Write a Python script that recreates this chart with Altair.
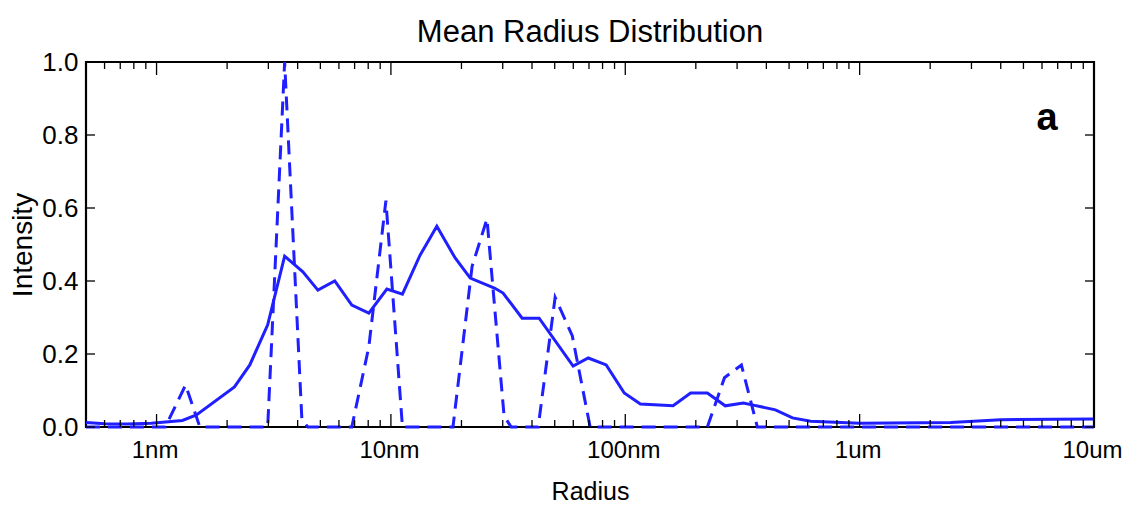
import altair as alt
import pandas as pd

# ---- data (radius in nm, intensity) ----
solid_radius = [0.5, 0.6, 0.75, 0.95, 1.29, 1.48, 2.15, 2.50, 2.98, 3.52, 4.21, 4.88, 5.76,
                6.81, 8.05, 9.61, 11.2, 13.3, 15.7, 18.8, 21.8, 27.8, 30.1, 36.3, 42.9,
                59.9, 69.5, 82.9, 99, 116, 160, 190, 224, 267, 319, 352, 437, 517, 618,
                1000, 2450, 4000, 10000]
solid_intensity = [0.012, 0.009, 0.008, 0.010, 0.018, 0.033, 0.11, 0.17, 0.28, 0.468, 0.425,
                   0.375, 0.40, 0.334, 0.312, 0.378, 0.364, 0.47, 0.55, 0.463, 0.408, 0.38,
                   0.367, 0.298, 0.298, 0.167, 0.189, 0.17, 0.093, 0.063, 0.058, 0.093,
                   0.093, 0.058, 0.066, 0.06, 0.047, 0.025, 0.016, 0.01, 0.012, 0.02, 0.022]

dash_radius = [0.5, 1.09, 1.33, 1.53, 2.98, 3.52, 4.17, 4.42, 6.81, 8.05, 9.52, 11.2,
               18.4, 22.2, 25.7, 30.4, 32.6, 42.5, 50.2, 59.4, 70.8, 224, 265, 313, 366, 10000]
dash_intensity = [0, 0, 0.115, 0, 0, 1.0, 0.02, 0, 0, 0.22, 0.62, 0,
                  0, 0.44, 0.57, 0.03, 0, 0, 0.355, 0.25, 0, 0, 0.135, 0.17, 0, 0]

major_ticks = [1, 10, 100, 1000, 10000]
major_labels = ["1nm", "10nm", "100nm", "1um", "10um"]
minor_ticks = [0.6, 0.7, 0.8, 0.9] + [m * d for d in [1, 10, 100, 1000] for m in range(2, 10)]
y_ticks = [0.0, 0.2, 0.4, 0.6, 0.8, 1.0]

W, H = 1008, 365
BLUE = "#1f1fff"
FONT = "Liberation Sans"

solid_df = pd.DataFrame({"r": solid_radius, "i": solid_intensity})
dash_df = pd.DataFrame({"r": dash_radius, "i": dash_intensity})
major_df = pd.DataFrame({"r": major_ticks})
minor_df = pd.DataFrame({"r": minor_ticks})
ytick_df = pd.DataFrame({"i": y_ticks})

label_expr = ""
for v, l in zip(major_ticks, major_labels):
    label_expr += f"datum.value == {v} ? '{l}' : "
label_expr += "''"

xscale = alt.Scale(type="log", domain=[0.5, 10000], nice=False)
yscale = alt.Scale(domain=[0, 1], nice=False, zero=False)

x_enc = alt.X("r:Q", scale=xscale,
              axis=alt.Axis(values=major_ticks, labelExpr=label_expr, ticks=False,
                            domain=False, grid=False, title="Radius",
                            labelFont=FONT, labelFontSize=24, labelColor="black",
                            labelPadding=11, labelOffset=-2, titleFont=FONT, titleFontSize=25,
                            titleFontWeight="normal", titleColor="black",
                            titlePadding=17, labelFlush=False))
y_enc = alt.Y("i:Q", scale=yscale,
              axis=alt.Axis(values=y_ticks, format=".1f", ticks=False, domain=False,
                            grid=False, title="Intensity", labelFont=FONT,
                            labelFontSize=26, labelColor="black", labelPadding=8,
                            titleFont=FONT, titleFontSize=28,
                            titleFontWeight="normal", titleColor="black",
                            titlePadding=4, labelFlush=False))

solid = alt.Chart(solid_df).mark_line(color=BLUE, strokeWidth=3).encode(x=x_enc, y=y_enc)
dashed = alt.Chart(dash_df).mark_line(color=BLUE, strokeWidth=3, strokeDash=[14, 8]).encode(
    x=alt.X("r:Q", scale=xscale), y=alt.Y("i:Q", scale=yscale))

def xticks(df, y0, y1):
    return alt.Chart(df).mark_rule(color="black", strokeWidth=1.3).encode(
        x=alt.X("r:Q", scale=xscale), y=alt.value(y0), y2=alt.value(y1))

def yticks(x0, x1):
    return alt.Chart(ytick_df).mark_rule(color="black", strokeWidth=1.3).encode(
        y=alt.Y("i:Q", scale=yscale), x=alt.value(x0), x2=alt.value(x1))

ticks = [
    xticks(major_df, H, H - 13), xticks(minor_df, H, H - 7),
    xticks(major_df, 0, 13), xticks(minor_df, 0, 7),
    yticks(0, 9), yticks(W - 9, W),
]

label_a = alt.Chart(pd.DataFrame({"t": ["a"]})).mark_text(
    font=FONT, fontSize=38, fontWeight="bold", color="black",
    align="center", baseline="middle").encode(
    text="t:N", x=alt.value(961), y=alt.value(57))

chart = alt.layer(solid, dashed, *ticks, label_a).properties(
    width=W, height=H,
    background="white",
    title=alt.TitleParams("Mean Radius Distribution", font=FONT, fontSize=31,
                          fontWeight="normal", color="black", anchor="middle", offset=0),
    autosize=alt.AutoSizeParams(type="none"),
    padding={"left": 78, "top": 54, "right": 28, "bottom": 80},
).configure_view(stroke="black", strokeWidth=2.2)

chart.save("out.html", embed_options={"renderer": "svg", "actions": False})
